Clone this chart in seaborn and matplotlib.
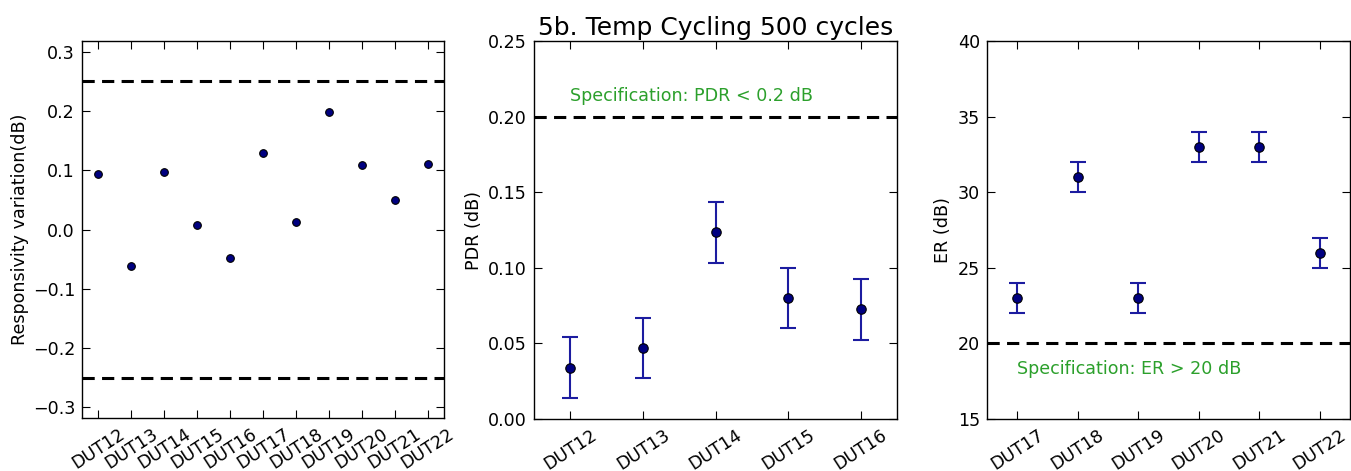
import numpy as np
import pandas as pd
import matplotlib
matplotlib.use("Agg")
import matplotlib.pyplot as plt
import seaborn as sns

# Responsivity variation after temperature cycling
resp_duts = ["DUT12", "DUT13", "DUT14", "DUT15", "DUT16", "DUT17",
             "DUT18", "DUT19", "DUT20", "DUT21", "DUT22"]
resp_values = [0.094, -0.061, 0.097, 0.008, -0.048, 0.129,
               0.013, 0.198, 0.108, 0.050, 0.110]
resp_limits = [0.25, -0.25]

# Polarization dependent ratio
pdr_duts = ["DUT12", "DUT13", "DUT14", "DUT15", "DUT16"]
pdr_values = [0.034, 0.047, 0.1235, 0.080, 0.0725]
pdr_err = [0.02, 0.02, 0.02, 0.02, 0.02]
pdr_spec = 0.2

# Extinction ratio
er_duts = ["DUT17", "DUT18", "DUT19", "DUT20", "DUT21", "DUT22"]
er_values = [23, 31, 23, 33, 33, 26]
er_err = [1, 1, 1, 1, 1, 1]
er_spec = 20

FS = 12.6

sns.set_style("ticks", {
    "xtick.direction": "in", "ytick.direction": "in",
    "axes.edgecolor": "black", "axes.linewidth": 1.0,
    "text.color": "black", "axes.labelcolor": "black",
    "xtick.color": "black", "ytick.color": "black",
})
plt.rcParams["font.family"] = ["DejaVu Sans"]
plt.rcParams["font.size"] = FS
plt.rcParams["xtick.labelsize"] = FS
plt.rcParams["ytick.labelsize"] = FS
plt.rcParams["axes.labelsize"] = FS
plt.rcParams["xtick.major.size"] = 5.8
plt.rcParams["ytick.major.size"] = 5.8
plt.rcParams["xtick.top"] = True
plt.rcParams["ytick.right"] = True

fig = plt.figure(figsize=(13.51, 4.71), dpi=100)
ax1 = fig.add_axes([82 / 1351, 1 - 418 / 471, 362 / 1351, 377 / 471])
ax2 = fig.add_axes([534 / 1351, 1 - 419 / 471, 363 / 1351, 378 / 471])
ax3 = fig.add_axes([987 / 1351, 1 - 419 / 471, 363 / 1351, 378 / 471])

marker_face = "#000080"
bar_color = "#1c1ca0"
dash_style = (0, (4.0, 2.4))
spec_green = "#2ca02c"

# Panel 1: responsivity variation
df1 = pd.DataFrame({"dut": resp_duts, "value": resp_values})
sns.pointplot(data=df1, x="dut", y="value", ax=ax1, linestyle="none",
              marker="o", markersize=5.5, color=marker_face,
              markeredgecolor="black", markeredgewidth=0.8, errorbar=None)
for lim in resp_limits:
    ax1.axhline(lim, color="black", lw=2.2, ls=dash_style)
ax1.set_ylim(-0.318, 0.318)
ax1.set_yticks([-0.3, -0.2, -0.1, 0.0, 0.1, 0.2, 0.3])
ax1.set_ylabel("Responsivity variation(dB)", labelpad=3)

# Panel 2: PDR with error bars
df2 = pd.DataFrame({"dut": pdr_duts, "value": pdr_values, "err": pdr_err})
ax2.errorbar(np.arange(len(pdr_duts)), df2["value"], yerr=df2["err"],
             fmt="none", ecolor=bar_color, elinewidth=1.5, capsize=5.5,
             capthick=1.5, zorder=2)
sns.pointplot(data=df2, x="dut", y="value", ax=ax2, linestyle="none",
              marker="o", markersize=6.8, color=marker_face,
              markeredgecolor="black", markeredgewidth=0.8, errorbar=None)
ax2.axhline(pdr_spec, color="black", lw=2.2, ls=dash_style)
ax2.text(0, 0.21, "Specification: PDR < 0.2 dB", color=spec_green,
         fontsize=FS, ha="left", va="baseline")
ax2.set_ylim(0, 0.25)
ax2.set_yticks([0.0, 0.05, 0.10, 0.15, 0.20, 0.25])
ax2.set_yticklabels(["0.00", "0.05", "0.10", "0.15", "0.20", "0.25"])
ax2.set_ylabel("PDR (dB)")
ax2.set_title("5b. Temp Cycling 500 cycles", fontsize=18, pad=4)

# Panel 3: ER with error bars
df3 = pd.DataFrame({"dut": er_duts, "value": er_values, "err": er_err})
ax3.errorbar(np.arange(len(er_duts)), df3["value"], yerr=df3["err"],
             fmt="none", ecolor=bar_color, elinewidth=1.5, capsize=5.5,
             capthick=1.5, zorder=2)
sns.pointplot(data=df3, x="dut", y="value", ax=ax3, linestyle="none",
              marker="o", markersize=6.8, color=marker_face,
              markeredgecolor="black", markeredgewidth=0.8, errorbar=None)
ax3.axhline(er_spec, color="black", lw=2.2, ls=dash_style)
ax3.text(0, 18, "Specification: ER > 20 dB", color=spec_green,
         fontsize=FS, ha="left", va="baseline")
ax3.set_ylim(15, 40)
ax3.set_yticks([15, 20, 25, 30, 35, 40])
ax3.set_ylabel("ER (dB)")

for ax, n in ((ax1, len(resp_duts)), (ax2, len(pdr_duts)), (ax3, len(er_duts))):
    ax.set_xlim(-0.5, n - 0.5)
    ax.set_xlabel("")
    ax.tick_params(axis="x", rotation=33, top=True, pad=5)
    ax.tick_params(axis="y", right=True, pad=5)
    for lbl in ax.get_xticklabels():
        lbl.set_ha("center")
    for sp in ax.spines.values():
        sp.set_visible(True)
        sp.set_color("black")
        sp.set_linewidth(1.0)

fig.savefig("out.png", dpi=100, facecolor="white")
